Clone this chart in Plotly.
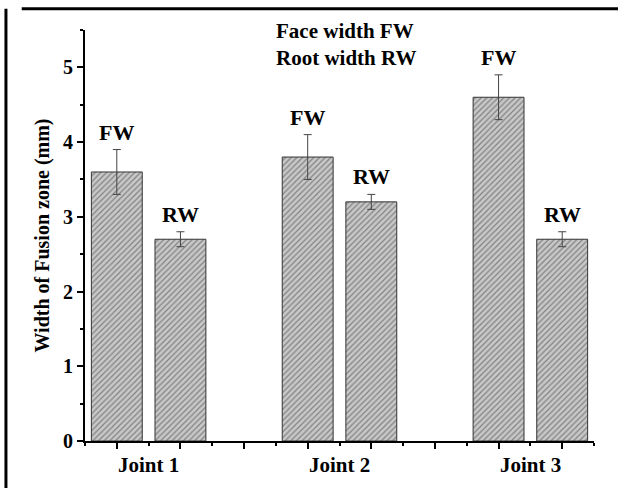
import plotly.graph_objects as go

# Fusion zone widths per joint (mm) with standard deviations
joints = ["Joint 1", "Joint 2", "Joint 3"]
face_width = [3.6, 3.8, 4.6]
face_err = [0.3, 0.3, 0.3]
root_width = [2.7, 3.2, 2.7]
root_err = [0.1, 0.1, 0.1]

# Positions on the numeric x axis (two bars per joint, gap between joints)
face_pos = [1, 7, 13]
root_pos = [3, 9, 15]
joint_pos = [2, 8, 14]

FONT = "Liberation Serif"
hatch = dict(shape="/", fgcolor="#3a3a3a", bgcolor="#c8c8c8", size=4, solidity=0.3)
bar_line = dict(color="#333333", width=1)
err_style = dict(type="data", thickness=1, width=4, color="#444444")

fig = go.Figure()
fig.add_trace(go.Bar(
    x=face_pos, y=face_width, width=1.6,
    error_y=dict(array=face_err, **err_style),
    marker=dict(color="#c8c8c8", pattern=hatch, line=bar_line),
    name="Face width FW", showlegend=False,
))
fig.add_trace(go.Bar(
    x=root_pos, y=root_width, width=1.6,
    error_y=dict(array=root_err, **err_style),
    marker=dict(color="#c8c8c8", pattern=hatch, line=bar_line),
    name="Root width RW", showlegend=False,
))

annotations = []
# FW / RW labels above error bars
for xs, ys, es, txt in [(face_pos, face_width, face_err, "FW"),
                        (root_pos, root_width, root_err, "RW")]:
    for x, y, e in zip(xs, ys, es):
        annotations.append(dict(
            x=x, y=y + e, xref="x", yref="y", text=f"<b>{txt}</b>",
            showarrow=False, yanchor="bottom", yshift=3,
            font=dict(family=FONT, size=22, color="black"),
        ))
# Joint labels under the axis
for x, name in zip(joint_pos, joints):
    annotations.append(dict(
        x=x, y=0, xref="x", yref="paper", text=f"<b>{name}</b>",
        showarrow=False, yanchor="top", yshift=-10,
        font=dict(family=FONT, size=21, color="black"),
    ))
# Legend-style text
for yv, txt in [(5.48, "Face width FW"), (5.12, "Root width RW")]:
    annotations.append(dict(
        x=5.95, y=yv, xref="x", yref="y", text=f"<b>{txt}</b>",
        showarrow=False, xanchor="left", yanchor="middle",
        font=dict(family=FONT, size=21, color="black"),
    ))

fig.update_layout(
    width=618, height=488,
    margin=dict(l=85, r=24, t=30, b=47),
    paper_bgcolor="white", plot_bgcolor="white",
    barmode="overlay", showlegend=False,
    annotations=annotations,
    font=dict(family=FONT, color="black"),
    shapes=[
        dict(type="line", xref="paper", yref="paper",
             x0=-0.1243, x1=1.06, y0=1.052, y1=1.052,
             line=dict(color="black", width=3)),
        dict(type="line", xref="paper", yref="paper",
             x0=-0.1553, x1=-0.1553, y0=1.052, y1=-0.12,
             line=dict(color="black", width=3)),
    ],
)
fig.update_xaxes(
    range=[0, 16], showgrid=False, zeroline=False,
    showline=True, linecolor="black", linewidth=2,
    tickmode="array", tickvals=[1, 3, 5, 7, 9, 11, 13, 15], ticktext=[""] * 8,
    ticks="outside", ticklen=6, tickwidth=2, tickcolor="black",
    minor=dict(tickmode="array", tickvals=[0, 2, 4, 6, 8, 10, 12, 14, 16],
               ticks="outside", ticklen=3, tickwidth=2, tickcolor="black"),
)
fig.update_yaxes(
    range=[0, 5.5], showgrid=False, zeroline=False,
    showline=True, linecolor="black", linewidth=2,
    tickmode="array", tickvals=[0, 1, 2, 3, 4, 5],
    ticktext=["<b>0</b>", "<b>1</b>", "<b>2</b>", "<b>3</b>", "<b>4</b>", "<b>5</b>"],
    tickfont=dict(family=FONT, size=20, color="black"),
    ticks="outside", ticklen=6, tickwidth=2, tickcolor="black",
    minor=dict(tickmode="array", tickvals=[0.5, 1.5, 2.5, 3.5, 4.5, 5.5],
               ticks="outside", ticklen=3, tickwidth=2, tickcolor="black"),
    title=dict(text="<b>Width of Fusion zone (mm)</b>", standoff=8,
               font=dict(family=FONT, size=20, color="black")),
)

fig.write_html("out.html")
